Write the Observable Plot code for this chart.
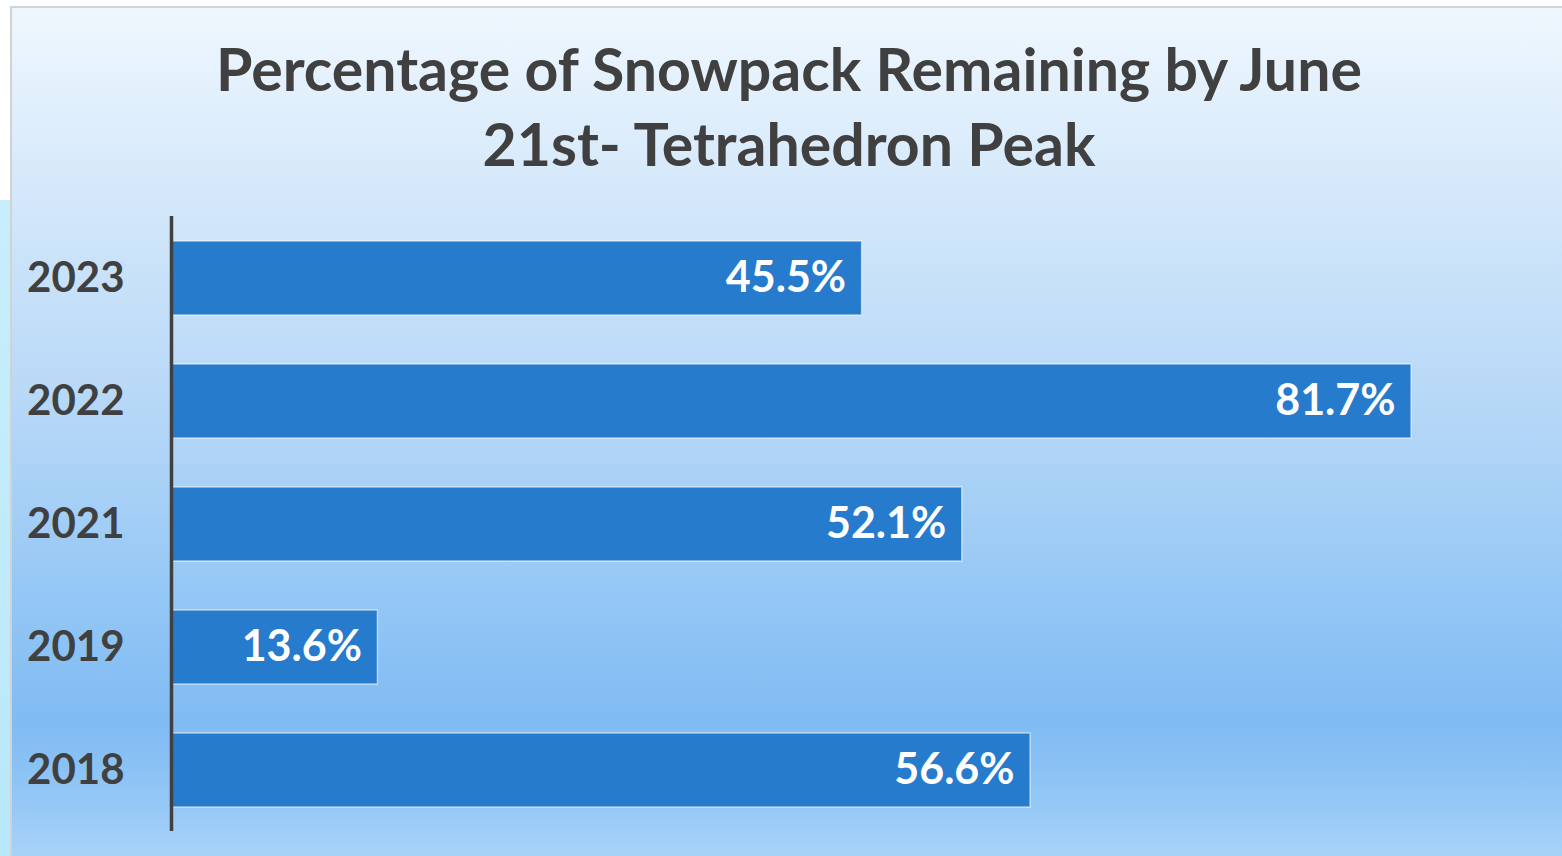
<!DOCTYPE html>
<html>
<head>
<meta charset="utf-8">
<script src="https://cdn.jsdelivr.net/npm/d3@7"></script>
<script src="https://cdn.jsdelivr.net/npm/@observablehq/plot@0.6"></script>
<style>
  html, body { margin: 0; padding: 0; width: 1562px; height: 856px; overflow: hidden; background: #ffffff; }
  #strip { position: absolute; left: 0; top: 200px; width: 12px; height: 656px;
    background: linear-gradient(to bottom, #c8eefc, #b8e8fb); }
  #panel { position: absolute; left: 10px; top: 6px; width: 1556px; height: 860px;
    border: 2px solid #d2d2d2; box-sizing: border-box;
    background: linear-gradient(to bottom, #eff7fe 0px, #d2e7fa 200px, #b3d6f7 420px, #92c6f5 600px, #80bbf3 715px, #93c7f6 790px, #a9d3f8 850px); }
  #title { position: absolute; left: 0; top: 31px; width: 1578px; text-align: center;
    font-family: Lato, sans-serif; font-weight: bold; font-size: 59px; line-height: 75px; color: #404040; }
  #chart { position: absolute; left: 0; top: 200px; }
</style>
</head>
<body>
<div id="strip"></div>
<div id="panel"></div>
<div id="title">Percentage of Snowpack Remaining by June<br>21st- Tetrahedron Peak</div>
<div id="chart"></div>
<script>
const years = ["2023", "2022", "2021", "2019", "2018"];
const values = [45.5, 81.7, 52.1, 13.6, 56.6];
const labels = ["45.5%", "81.7%", "52.1%", "13.6%", "56.6%"];

const data = years.map((y, i) => ({year: y, value: values[i], label: labels[i]}));

const chart = Plot.plot({
  width: 1562,
  height: 656,
  marginLeft: 171,
  marginRight: 25,
  marginTop: 16,
  marginBottom: 25,
  style: {background: "transparent", fontFamily: "Lato, sans-serif"},
  x: {domain: [0, 90], axis: null},
  y: {domain: years, paddingInner: 0.4, paddingOuter: 0.2, axis: null},
  marks: [
    Plot.barX(data, {x: "value", y: "year", fill: "#267bcd", stroke: "rgba(255,255,255,0.55)", strokeWidth: 1.5}),
    Plot.ruleX([0], {stroke: "#404040", strokeWidth: 3.5}),
    Plot.text(data, {x: 0, y: "year", text: "year", dx: -47, textAnchor: "end", fontSize: 42, fontWeight: "bold", fill: "#404040"}),
    Plot.text(data, {x: "value", y: "year", text: "label", dx: -16, textAnchor: "end", fontSize: 43, fontWeight: "bold", fill: "#ffffff"})
  ]
});
document.getElementById("chart").appendChild(chart);
</script>
</body>
</html>
